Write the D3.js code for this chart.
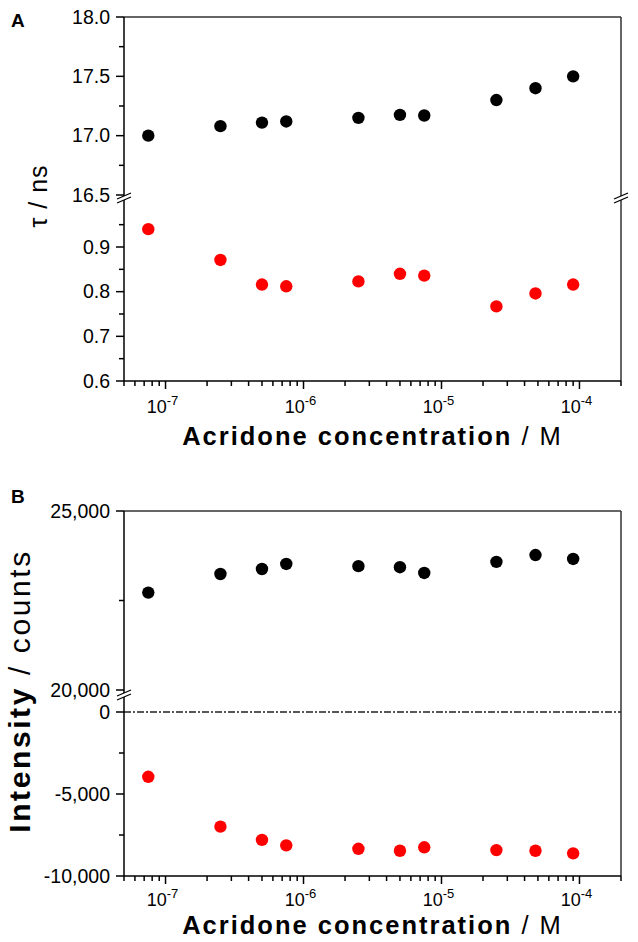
<!DOCTYPE html>
<html>
<head>
<meta charset="utf-8">
<script src="https://cdn.jsdelivr.net/npm/d3@7"></script>
<style>
  html, body { margin: 0; padding: 0; background: #fff; }
  svg { display: block; }
  text { font-family: "Liberation Sans", Arial, sans-serif; fill: #000; }
</style>
</head>
<body>
<svg id="chart" width="638" height="942"></svg>
<script>
// ---------- DATA ----------
const concentrations = [7.5e-8, 2.5e-7, 5e-7, 7.5e-7, 2.5e-6, 5e-6, 7.5e-6, 2.5e-5, 4.8e-5, 9e-5];
// Panel A: lifetimes (ns)
const tauLong  = [17.00, 17.08, 17.11, 17.12, 17.15, 17.175, 17.17, 17.30, 17.40, 17.50];
const tauShort = [0.940, 0.871, 0.816, 0.812, 0.823, 0.840, 0.836, 0.767, 0.796, 0.816];
// Panel B: intensities (counts)
const intensityHigh = [22720, 23240, 23380, 23520, 23460, 23430, 23270, 23580, 23770, 23660];
const intensityLow  = [-3950, -6990, -7800, -8130, -8340, -8460, -8250, -8420, -8460, -8620];
// Axis ticks
const xMajorTicks = [1e-7, 1e-6, 1e-5, 1e-4];
const xTickExponents = ["-7", "-6", "-5", "-4"];
const aUpperMajor = [16.5, 17.0, 17.5, 18.0];
const aUpperMinor = [16.75, 17.25, 17.75];
const aLowerMajor = [0.6, 0.7, 0.8, 0.9];
const aLowerMinor = [0.65, 0.75, 0.85, 0.95];
const bUpperMajor = [20000, 25000];
const bUpperMinor = [22500];
const bLowerMajor = [-10000, -5000, 0];
const bLowerMinor = [-7500, -2500];

// ---------- LAYOUT ----------
const svg = d3.select("#chart");
const L = 124, R = 621;
const xDomain = [5e-8, 2e-4];

function minorLogTicks(domain) {
  const out = [];
  for (let e = -8; e <= -4; e++) {
    for (let k = 2; k <= 9; k++) {
      const v = k * Math.pow(10, e);
      if (v >= domain[0] * 0.999 && v <= domain[1] * 1.001) out.push(v);
    }
  }
  return out;
}

function drawPanel(cfg) {
  const g = svg.append("g");
  const x = d3.scaleLog().domain(xDomain).range([L, R]);
  const yU = d3.scaleLinear().domain(cfg.upperDomain).range(cfg.upperRange);
  const yL = d3.scaleLinear().domain(cfg.lowerDomain).range(cfg.lowerRange);
  const top = cfg.upperRange[1], bottom = cfg.lowerRange[0];
  const bU = cfg.breakY - 2, bL = cfg.breakY + 2;

  // frame: top and right
  g.append("line").attr("x1", L).attr("x2", R).attr("y1", top).attr("y2", top)
    .attr("stroke", "#333").attr("stroke-width", 1.5);
  if (cfg.rightBreak) {
    g.append("line").attr("x1", R).attr("x2", R).attr("y1", top).attr("y2", bU)
      .attr("stroke", "#333").attr("stroke-width", 1.5);
    g.append("line").attr("x1", R).attr("x2", R).attr("y1", bL).attr("y2", bottom)
      .attr("stroke", "#333").attr("stroke-width", 1.5);
  } else {
    g.append("line").attr("x1", R).attr("x2", R).attr("y1", top).attr("y2", bottom)
      .attr("stroke", "#333").attr("stroke-width", 1.5);
  }

  // zero reference line (dash-dot)
  if (cfg.zeroLine) {
    g.append("line").attr("x1", L).attr("x2", R)
      .attr("y1", yL(0)).attr("y2", yL(0))
      .attr("stroke", "#222").attr("stroke-width", 1.3)
      .attr("stroke-dasharray", "7,2,2,2");
  }

  // left axis segments
  g.append("line").attr("x1", L).attr("x2", L).attr("y1", top).attr("y2", bU)
    .attr("stroke", "#000").attr("stroke-width", 1.5);
  g.append("line").attr("x1", L).attr("x2", L).attr("y1", bL).attr("y2", bottom)
    .attr("stroke", "#000").attr("stroke-width", 1.5);

  // break marks
  const breakXs = cfg.rightBreak ? [L, R] : [L];
  breakXs.forEach(bx => {
    [bU, bL].forEach(by => {
      g.append("line").attr("x1", bx - 7).attr("x2", bx + 7)
        .attr("y1", by + 3).attr("y2", by - 3)
        .attr("stroke", "#000").attr("stroke-width", 1.3);
    });
  });

  // y ticks
  const yTick = (scale, vals, len) => {
    g.selectAll(null).data(vals).enter().append("line")
      .attr("x1", L - len).attr("x2", L)
      .attr("y1", d => scale(d)).attr("y2", d => scale(d))
      .attr("stroke", "#000").attr("stroke-width", 1.5);
  };
  yTick(yU, cfg.upperMajor, 8); yTick(yU, cfg.upperMinor, 5);
  yTick(yL, cfg.lowerMajor, 8); yTick(yL, cfg.lowerMinor, 5);

  const yLab = (scale, vals) => {
    g.selectAll(null).data(vals).enter().append("text")
      .attr("x", 110).attr("y", d => scale(d))
      .attr("dy", "0.35em").attr("text-anchor", "end")
      .attr("font-size", 19.5)
      .text(d => cfg.fmt(d));
  };
  yLab(yU, cfg.upperMajor); yLab(yL, cfg.lowerMajor);

  // x axis
  g.append("line").attr("x1", L).attr("x2", R).attr("y1", bottom).attr("y2", bottom)
    .attr("stroke", "#000").attr("stroke-width", 1.5);
  g.selectAll(null).data(xMajorTicks).enter().append("line")
    .attr("x1", d => x(d)).attr("x2", d => x(d))
    .attr("y1", bottom).attr("y2", bottom + 8)
    .attr("stroke", "#000").attr("stroke-width", 1.5);
  g.selectAll(null).data(minorLogTicks(xDomain)).enter().append("line")
    .attr("x1", d => x(d)).attr("x2", d => x(d))
    .attr("y1", bottom).attr("y2", bottom + 5)
    .attr("stroke", "#000").attr("stroke-width", 1.5);
  const xl = g.selectAll(null).data(xMajorTicks).enter().append("text")
    .attr("x", d => x(d) - 3).attr("y", bottom + cfg.xLabelOffset)
    .attr("text-anchor", "middle").attr("font-size", 18);
  xl.append("tspan").text("10");
  xl.append("tspan").attr("dy", -8).attr("font-size", 13)
    .text((d, i) => xTickExponents[i]);

  // x title
  const xt = g.append("text").attr("x", (L + R) / 2).attr("y", bottom + cfg.xTitleOffset)
    .attr("text-anchor", "middle").attr("font-size", 25.5).attr("letter-spacing", 2);
  xt.append("tspan").attr("font-weight", "bold").text("Acridone concentration");
  xt.append("tspan").text(" / M");

  // y title
  const yt = g.append("text")
    .attr("transform", `translate(${cfg.yTitleX},${cfg.yTitleCenter}) rotate(-90)`)
    .attr("text-anchor", "middle").attr("font-size", cfg.yTitleSize)
    .attr("letter-spacing", cfg.yTitleSpacing);
  cfg.yTitle(yt);

  // panel letter
  g.append("text").attr("x", 11).attr("y", cfg.letterY)
    .attr("font-size", 19).attr("font-weight", "bold").text(cfg.letter);

  // points
  const pick = v => (v >= cfg.upperDomain[0] ? yU(v) : yL(v));
  const drawSeries = (vals, color) => {
    g.selectAll(null).data(vals).enter().append("circle")
      .attr("cx", (d, i) => x(concentrations[i]))
      .attr("cy", d => pick(d))
      .attr("r", 6.2).attr("fill", color);
  };
  drawSeries(cfg.high, "#000");
  drawSeries(cfg.low, "#ff0000");
}

drawPanel({
  letter: "A", letterY: 27,
  upperDomain: [16.5, 18.0], upperRange: [195, 17],
  lowerDomain: [0.6, 0.9], lowerRange: [381, 247],
  breakY: 198, rightBreak: true, zeroLine: false,
  upperMajor: aUpperMajor, upperMinor: aUpperMinor,
  lowerMajor: aLowerMajor, lowerMinor: aLowerMinor,
  fmt: d => d3.format(".1f")(d),
  high: tauLong, low: tauShort,
  xLabelOffset: 32, xTitleOffset: 64,
  yTitleX: 47, yTitleCenter: 196, yTitleSize: 25, yTitleSpacing: 1,
  yTitle: t => t.text("τ / ns")
});

drawPanel({
  letter: "B", letterY: 503,
  upperDomain: [20000, 25000], upperRange: [690, 511],
  lowerDomain: [-10000, 0], lowerRange: [876, 712],
  breakY: 695, rightBreak: false, zeroLine: true,
  upperMajor: bUpperMajor, upperMinor: bUpperMinor,
  lowerMajor: bLowerMajor, lowerMinor: bLowerMinor,
  fmt: d => d3.format(",")(d).replace("−", "-"),
  high: intensityHigh, low: intensityLow,
  xLabelOffset: 30, xTitleOffset: 58,
  yTitleX: 30, yTitleCenter: 691, yTitleSize: 30, yTitleSpacing: 2.6,
  yTitle: t => {
    t.append("tspan").attr("font-weight", "bold").text("Intensity");
    t.append("tspan").text(" / counts");
  }
});
</script>
</body>
</html>
